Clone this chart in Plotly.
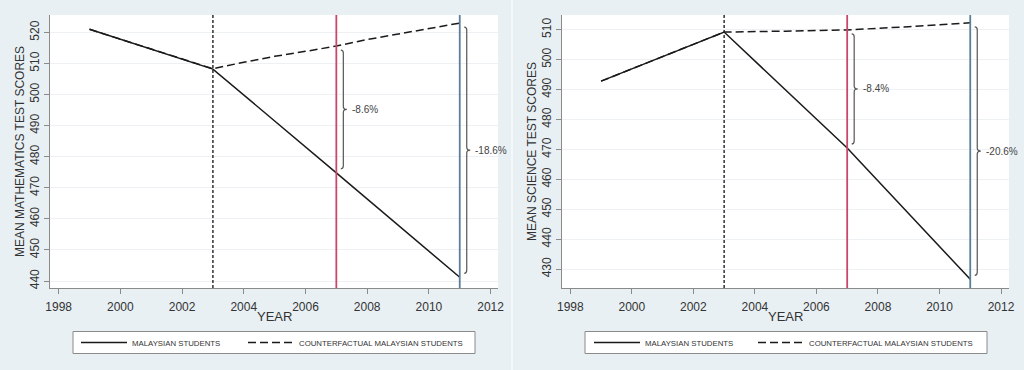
import plotly.graph_objects as go

# ---------------- data ----------------
years = [1999, 2003, 2007, 2011]
math_actual = [521, 508.2, 474.8, 441.2]
cf_years_math = [1999, 2003, 2004, 2005, 2006, 2007, 2008, 2009, 2010, 2011]
math_cf = [521, 508.3, 510.4, 512.3, 513.9, 515.6, 517.7, 519.4, 521.1, 523.0]

sci_actual = [492.8, 509.2, 470.5, 426.6]
cf_years_sci = [1999, 2003, 2005, 2007, 2009, 2011]
sci_cf = [492.8, 509.2, 509.5, 509.9, 511.0, 512.3]

math_gap_labels = ["-8.6%", "-18.6%"]
sci_gap_labels = ["-8.4%", "-20.6%"]
gap_years = [2007, 2011]

x_ticks = [1998, 2000, 2002, 2004, 2006, 2008, 2010, 2012]
math_ticks = [440, 450, 460, 470, 480, 490, 500, 510, 520]
sci_ticks = [430, 440, 450, 460, 470, 480, 490, 500, 510]

series_names = ["MALAYSIAN STUDENTS", "COUNTERFACTUAL MALAYSIAN STUDENTS"]
y_titles = ["MEAN MATHEMATICS TEST SCORES", "MEAN SCIENCE TEST SCORES"]
x_title = "YEAR"

# ---------------- styling ----------------
W, H = 1024, 370
BG = "#e9f0f3"
FONT = "Liberation Sans, Arial, sans-serif"
TXT = "#333333"
RED = "#c8486a"
BLUE = "#5b7e99"

fig = go.Figure()

panels = [
    dict(xa="x", ya="y", actual=math_actual, cfx=cf_years_math, cf=math_cf,
         labels=math_gap_labels, legends=["legend", "legend2"], xdom=[50 / W, 498 / W],
         xr=[1997.72, 2012.24], yr=[437.75, 525.6], ticks=math_ticks, ytitle=y_titles[0],
         legbox=[73, 475], legx=[81, 248]),
    dict(xa="x2", ya="y2", actual=sci_actual, cfx=cf_years_sci, cf=sci_cf,
         labels=sci_gap_labels, legends=["legend3", "legend4"], xdom=[562 / W, 1009 / W],
         xr=[1997.73, 2012.26], yr=[423.7, 514.9], ticks=sci_ticks, ytitle=y_titles[1],
         legbox=[585, 987], legx=[594, 758]),
]

ydom = [1 - 288 / H, 1 - 15 / H]
shapes = []
annotations = []

# light divider between the two panels
shapes.append(dict(type="line", xref="paper", yref="paper", x0=0.5, x1=0.5, y0=0, y1=1,
                   line=dict(color="#f4f8fa", width=2), layer="below"))

for i, p in enumerate(panels):
    fig.add_trace(go.Scatter(
        x=years, y=p["actual"], mode="lines", name=series_names[0],
        line=dict(color="#1a1a1a", width=1.5), xaxis=p["xa"], yaxis=p["ya"],
        legend=p["legends"][0], showlegend=True))
    fig.add_trace(go.Scatter(
        x=p["cfx"], y=p["cf"], mode="lines", name=series_names[1],
        line=dict(color="#1a1a1a", width=1.5, dash="8px,4px"), xaxis=p["xa"], yaxis=p["ya"],
        legend=p["legends"][1], showlegend=True))

    # vertical reference lines
    for yr_, col, dash, wd in [(2003, "#222222", "3px,2px", 1.4), (2007, RED, "solid", 1.8),
                               (2011, BLUE, "solid", 1.8)]:
        shapes.append(dict(type="line", xref=p["xa"], yref=p["ya"] + " domain",
                           x0=yr_, x1=yr_, y0=0, y1=1,
                           line=dict(color=col, width=wd, dash=dash), layer="above"))

    # braces between counterfactual and actual
    yspan = p["yr"][1] - p["yr"][0]
    px_y = yspan / 273.0
    xspan = p["xr"][1] - p["xr"][0]
    px_x = xspan / ((p["xdom"][1] - p["xdom"][0]) * W)
    for k, gy in enumerate(gap_years):
        cf_val = p["cf"][p["cfx"].index(gy)]
        ac_val = p["actual"][years.index(gy)]
        top = cf_val - 4 * px_y
        bot = ac_val + 4 * px_y
        x0 = gy + 7 * px_x
        w = 2.5 * px_x
        t = 3.5 * px_x
        d = 3 * px_y
        ym = (top + bot) / 2
        path = (f"M{x0 - w},{top} Q{x0},{top} {x0},{top - d} "
                f"L{x0},{ym + d} Q{x0},{ym} {x0 + t},{ym} "
                f"Q{x0},{ym} {x0},{ym - d} L{x0},{bot + d} "
                f"Q{x0},{bot} {x0 - w},{bot}")
        shapes.append(dict(type="path", xref=p["xa"], yref=p["ya"], path=path,
                           line=dict(color="#555555", width=1.2), layer="above"))
        annotations.append(dict(x=x0 + t + 3 * px_x, y=ym, xref=p["xa"], yref=p["ya"],
                                text=p["labels"][k], showarrow=False, xanchor="left",
                                yanchor="middle",
                                font=dict(size=10, color="#444444", family=FONT)))

    # x-axis title, tucked just under the tick labels
    annotations.append(dict(x=0.5, y=1 - 316 / H, xref=p["xa"] + " domain", yref="paper",
                            text=x_title, showarrow=False, xanchor="center", yanchor="middle",
                            font=dict(size=13, color=TXT, family=FONT)))

    # legend frame
    shapes.append(dict(type="rect", xref="paper", yref="paper",
                       x0=p["legbox"][0] / W, x1=p["legbox"][1] / W,
                       y0=1 - 353.5 / H, y1=1 - 331.5 / H,
                       fillcolor="white", line=dict(color="#8a8a8a", width=1), layer="above"))

axis_common = dict(showline=True, linecolor="#8a8a8a", linewidth=1, ticks="outside",
                   ticklen=5, tickcolor="#8a8a8a", tickfont=dict(size=12, color=TXT, family=FONT),
                   zeroline=False, mirror=False)

layout = dict(
    width=W, height=H, paper_bgcolor=BG, plot_bgcolor="white",
    margin=dict(l=0, r=0, t=0, b=0, autoexpand=False), font=dict(family=FONT, color=TXT),
    shapes=shapes, annotations=annotations,
)
for i, p in enumerate(panels):
    sfx = "" if i == 0 else "2"
    layout["xaxis" + sfx] = dict(
        axis_common, domain=p["xdom"], range=p["xr"], tickvals=x_ticks, showgrid=False,
        anchor=p["ya"], ticklabelstandoff=3)
    layout["yaxis" + sfx] = dict(
        axis_common, domain=ydom, range=p["yr"], tickvals=p["ticks"], tickangle=-90,
        showgrid=True, gridcolor="#eef1f3", gridwidth=1, anchor=p["xa"],
        title=dict(text=p["ytitle"], font=dict(size=12, color=TXT, family=FONT), standoff=1))
    for j, lg in enumerate(p["legends"]):
        layout[lg] = dict(
            orientation="h", x=(p["legx"][j] - 5) / W, y=1 - 342.5 / H,
            xanchor="left", yanchor="middle", bgcolor="rgba(0,0,0,0)",
            borderwidth=0, font=dict(size=7.8, color=TXT, family="Liberation Sans Narrow, " + FONT),
            itemwidth=46, tracegroupgap=0, itemclick=False, itemdoubleclick=False)

fig.update_layout(**layout)

fig.write_html("out.html", config={"displayModeBar": False, "responsive": False},
               post_script="document.body.style.margin='0';document.body.style.overflow='hidden';")
